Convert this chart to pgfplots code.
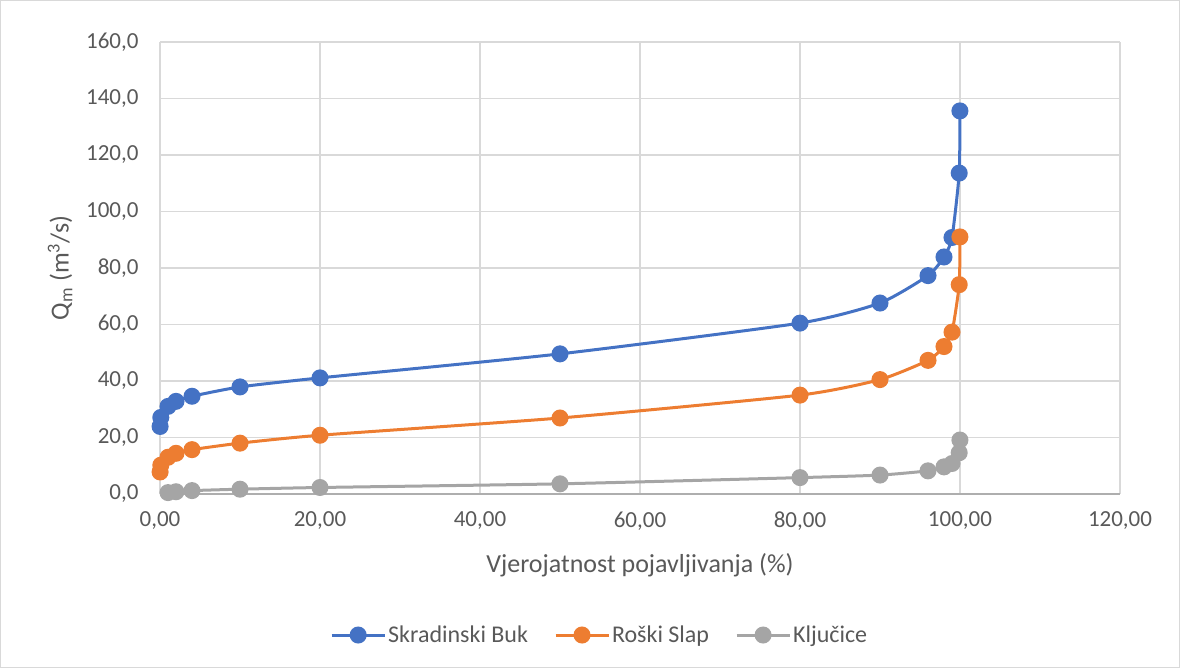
\documentclass[border=0pt]{standalone}
\usepackage{pgfplots}
\pgfplotsset{compat=1.18}
\usepackage{fontspec}
\setmainfont{Carlito}
\definecolor{cblue}{HTML}{4472C4}
\definecolor{corange}{HTML}{ED7D31}
\definecolor{cgray}{HTML}{A5A5A5}
\definecolor{ctext}{HTML}{595959}
\definecolor{cgrid}{HTML}{D9D9D9}
\begin{document}
\begin{tikzpicture}[x=1pt,y=1pt]
\draw[draw=cgrid, line width=1pt] (0.5,0.5) rectangle (1179.5,667.5);
\begin{axis}[
  at={(160pt,174pt)}, anchor=south west,
  scale only axis, width=960pt, height=452pt,
  xmin=0, xmax=120, ymin=0, ymax=160,
  xtick={0,20,...,120}, ytick={0,20,...,160},
  grid=major,
  major grid style={draw=cgrid, line width=1.3pt},
  axis line style={draw=none},
  tick style={draw=none},
  /pgf/number format/assume math mode=true,
  xticklabel style={/pgf/number format/fixed, /pgf/number format/fixed zerofill, /pgf/number format/precision=2, /pgf/number format/use comma, /pgf/number format/1000 sep={}, yshift=-14pt},
  yticklabel style={/pgf/number format/fixed, /pgf/number format/fixed zerofill, /pgf/number format/precision=1, /pgf/number format/use comma, /pgf/number format/1000 sep={}, xshift=-18pt},
  ticklabel style={font=\fontsize{23}{26}\selectfont, text=ctext},
  xlabel={Vjerojatnost pojavljivanja (\%)},
  ylabel={Q\textsubscript{m} (m\textsuperscript{3}/s)},
  every axis x label/.style={at={(axis description cs:0.5,-0.157)}, anchor=center, font=\fontsize{26}{30}\selectfont, text=ctext},
  every axis y label/.style={at={(axis description cs:-0.104,0.5)}, anchor=center, rotate=90, font=\fontsize{26}{30}\selectfont, text=ctext},
  legend columns=3,
  legend style={at={(axis description cs:0.458,-0.312)}, anchor=center, draw=none, fill=none,
    font=\fontsize{24}{28}\selectfont, text=ctext, /tikz/every even column/.append style={column sep=24pt},
    /tikz/every odd column/.append style={column sep=0pt}},
  legend image code/.code={\draw[#1, mark=none] (-8pt,0pt) -- (45pt,0pt); \draw[#1, only marks] plot coordinates {(18.5pt,0pt)};},
  every axis plot/.append style={line width=3pt, mark=*, mark size=7pt, smooth, tension=0.35},
  clip=false,
]
\draw[draw=cgrid!80!black, line width=1.3pt] (axis cs:0,0) -- (axis cs:120,0);
\addplot[cblue, mark options={fill=cblue, draw=cblue}] coordinates {
 (0.01,23.9) (0.1,27.1) (1,31.0) (2,32.8) (4,34.6) (10,37.9) (20,41.1) (50,49.6) (80,60.5) (90,67.6) (96,77.3) (98,83.9) (99,90.8) (99.9,113.6) (99.99,135.6)};
\addlegendentry{Skradinski Buk}
\addplot[corange, mark options={fill=corange, draw=corange}] coordinates {
 (0.01,7.8) (0.1,10.2) (1,13.0) (2,14.4) (4,15.7) (10,18.0) (20,20.8) (50,26.9) (80,35.0) (90,40.5) (96,47.3) (98,52.2) (99,57.3) (99.9,74.1) (99.99,91.0)};
\addlegendentry{Roški Slap}
\addplot[cgray, mark options={fill=cgray, draw=cgray}] coordinates {
 (1,0.5) (2,0.8) (4,1.2) (10,1.7) (20,2.3) (50,3.6) (80,5.8) (90,6.7) (96,8.2) (98,9.6) (99,10.8) (99.9,14.6) (99.99,19.1)};
\addlegendentry{Ključice}
\end{axis}
\end{tikzpicture}
\end{document}
